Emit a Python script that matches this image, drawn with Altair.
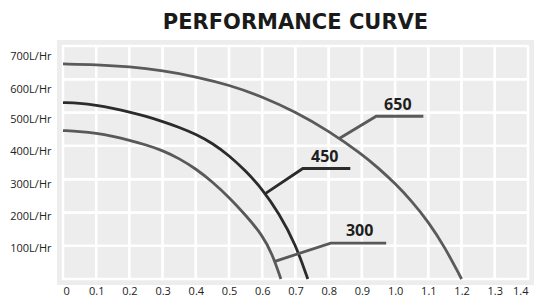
import altair as alt
import pandas as pd

# ---- data ----
x_650 = [0, 0.1, 0.2, 0.3, 0.4, 0.5, 0.6, 0.7, 0.8, 0.9, 0.95, 1.0, 1.05, 1.1, 1.15, 1.2]
y_650 = [646, 644, 638, 626, 608, 583, 548, 502, 445, 375, 333, 287, 234, 172, 95, 0]
x_450 = [0, 0.05, 0.1, 0.15, 0.2, 0.25, 0.3, 0.35, 0.4, 0.45, 0.5, 0.55, 0.6, 0.65, 0.7, 0.737]
y_450 = [530, 528, 522, 513, 502, 489, 473, 456, 435, 408, 371, 325, 270, 198, 105, 0]
x_300 = [0, 0.05, 0.1, 0.15, 0.2, 0.25, 0.3, 0.35, 0.4, 0.45, 0.5, 0.55, 0.6, 0.63, 0.656]
y_300 = [446, 443, 438, 429, 417, 403, 386, 362, 331, 292, 245, 192, 132, 75, 0]

lead_650_x = [0.833, 0.943, 1.085]
lead_650_y = [423, 489, 489]
lead_450_x = [0.61, 0.722, 0.865]
lead_450_y = [257, 332, 332]
lead_300_x = [0.638, 0.806, 0.973]
lead_300_y = [53, 108, 108]

label_text = ["650", "450", "300"]
label_x = [1.008, 0.788, 0.893]
label_y = [523, 368, 143]

x_ticks = [0, 0.1, 0.2, 0.3, 0.4, 0.5, 0.6, 0.7, 0.8, 0.9, 1.0, 1.1, 1.2, 1.3, 1.4]
y_ticks = [0, 100, 200, 300, 400, 500, 600, 700]
x_range = [0, 1.4]
y_range = [0, 700]

series = ["650", "450", "300"]
colors = ["#5a5a5a", "#2b2b2b", "#595959"]

# ---- tables ----
curves = pd.concat([
    pd.DataFrame({"x": x_650, "y": y_650, "s": "650"}),
    pd.DataFrame({"x": x_450, "y": y_450, "s": "450"}),
    pd.DataFrame({"x": x_300, "y": y_300, "s": "300"}),
])
leaders = pd.concat([
    pd.DataFrame({"x": lead_650_x, "y": lead_650_y, "s": "650"}),
    pd.DataFrame({"x": lead_450_x, "y": lead_450_y, "s": "450"}),
    pd.DataFrame({"x": lead_300_x, "y": lead_300_y, "s": "300"}),
])
labels = pd.DataFrame({"t": label_text, "x": label_x, "y": label_y})
panel = pd.DataFrame({"x": [x_range[0]], "x2": [x_range[1]], "y": [y_range[0]], "y2": [y_range[1]]})
cells = pd.DataFrame(
    [
        {"x": x_ticks[i], "x2": x_ticks[i + 1], "y": y_ticks[j], "y2": y_ticks[j + 1]}
        for i in range(len(x_ticks) - 1)
        for j in range(len(y_ticks) - 1)
    ]
)

xscale = alt.Scale(domain=x_range, nice=False, zero=False)
yscale = alt.Scale(domain=y_range, nice=False)
cscale = alt.Scale(domain=series, range=colors)

x_axis = alt.Axis(
    values=x_ticks,
    labelExpr="datum.value == 0 ? '0' : format(datum.value, '.1f')",
    ticks=False, domain=False, grid=False, title=None, labelOverlap=False,
    labelPadding=6, labelFont="Open Sans", labelFontSize=11, labelColor="#222222",
)
y_axis = alt.Axis(
    values=y_ticks,
    labelExpr="datum.value == 0 ? '' : datum.value + 'L/Hr'",
    ticks=False, domain=False, grid=False, title=None, labelOverlap=False,
    labelPadding=12, labelFont="Open Sans", labelFontSize=11, labelColor="#222222",
    labelOffset={
        "condition": [
            {"test": "datum.value >= 600", "value": 10},
            {"test": "datum.value >= 500", "value": 7},
            {"test": "datum.value >= 400", "value": 6},
            {"test": "datum.value >= 300", "value": 5},
            {"test": "datum.value >= 200", "value": 4},
        ],
        "value": 3,
    },
)

X = alt.X("x:Q", scale=xscale, axis=x_axis)
Y = alt.Y("y:Q", scale=yscale, axis=y_axis)

bg = alt.Chart(panel).mark_rect(fill="#ecedec", stroke="#ecedec", strokeWidth=12).encode(
    x=X, x2="x2:Q", y=Y, y2="y2:Q"
)
grid = alt.Chart(cells).mark_rect(fill="#ecedec", stroke="#ffffff", strokeWidth=2.5).encode(
    x=X, x2="x2:Q", y=Y, y2="y2:Q"
)

lines = alt.Chart(curves).mark_line(strokeWidth=2.8, interpolate="basis").encode(
    x=X, y=Y,
    color=alt.Color("s:N", scale=cscale, legend=None),
    detail="s:N",
)
lead = alt.Chart(leaders).mark_line(strokeWidth=2.8).encode(
    x=X, y=Y,
    color=alt.Color("s:N", scale=cscale, legend=None),
    detail="s:N",
)
text = alt.Chart(labels).mark_text(
    font="Open Sans", fontSize=16, fontWeight="bold", color="#1e1e1e", baseline="middle", align="center"
).encode(
    x=X, y=Y,
    text="t:N",
)

chart = alt.layer(bg, grid, lines, lead, text).properties(
    width=465,
    height=233,
    padding={"left": 1, "top": 4, "right": 0, "bottom": 0},
    title=alt.TitleParams(
        "PERFORMANCE CURVE", font="DejaVu Sans", fontSize=21, fontWeight="bold",
        color="#1a1a1a", anchor="middle", offset=7,
    ),
).configure_view(
    stroke="transparent",
)

chart.save("out.html", embed_options={"renderer": "svg", "actions": False})
